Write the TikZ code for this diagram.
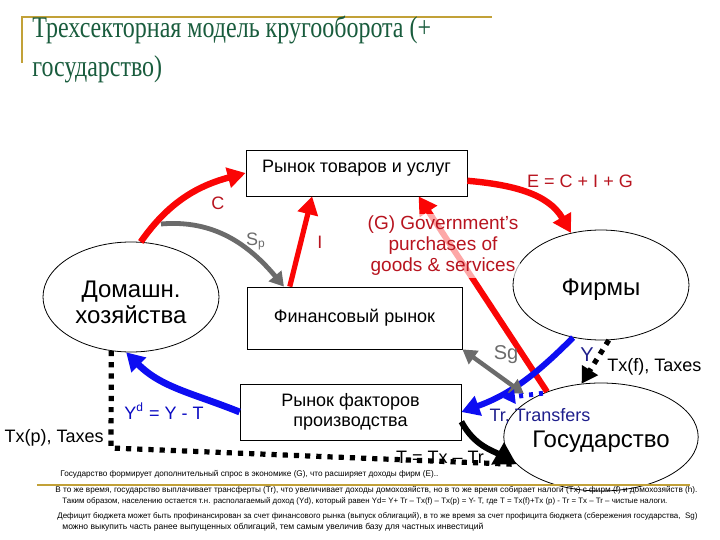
\documentclass[tikz,border=0pt]{standalone}
\usepackage{fontspec}
\setmainfont{Liberation Sans}
\newfontfamily\titlefont{Liberation Serif}
\usetikzlibrary{positioning,arrows.meta,calc,shapes.geometric}
\definecolor{figred}{rgb}{0.98,0.02,0.02}
\definecolor{figmaroon}{rgb}{0.72,0.08,0.12}
\definecolor{figblue}{rgb}{0.05,0.05,0.95}
\definecolor{fignavy}{rgb}{0.12,0.12,0.55}
\definecolor{figgrey}{gray}{0.42}
\definecolor{figgold}{rgb}{0.76,0.63,0.22}
\definecolor{figgreen}{rgb}{0.1,0.36,0.24}
\tikzset{
  fig/.style={font=\fontsize{9}{10}\selectfont},
  box/.style={draw,thin,minimum width=110.5pt,align=center,inner sep=2pt},
  oval/.style={draw,ellipse,thin,minimum width=88pt,minimum height=55pt,inner sep=0pt,
               align=center,font=\fontsize{12}{11.5}\selectfont},
  redln/.style={-{Triangle[length=9pt,width=10pt]},figred,line width=3.2pt},
  blueln/.style={-{Triangle[length=9pt,width=10pt]},figblue,line width=3pt},
  greyln/.style={-{Triangle[length=7pt,width=8pt]},figgrey,line width=2.4pt},
  dotln/.style={black,line width=2.6pt,dash pattern=on 2.6pt off 3pt},
  lbl/.style={inner sep=1pt},
  note/.style={anchor=base west,inner sep=0pt,font=\fontsize{4.1}{5}\selectfont},
}
\newcommand{\nline}[2]{\resizebox{#1}{!}{#2}}

\begin{document}
\begin{tikzpicture}[fig,x=0.5pt,y=-0.5pt,
  ttl/.style={anchor=base west,inner sep=0pt,text=figgreen,
              font=\titlefont\fontsize{15}{16}\selectfont}]

\useasboundingbox (0,0) rectangle (720,540);

% ------------------------------------------------ title
\draw[figgold,line width=1pt] (22,63) -- (22,17) -- (492,17);
\node[ttl] (t1) at (32,38) {\scalebox{0.8}[1]{Трехсекторная модель кругооборота (+}};
\node[ttl] (t2) at (32,77) {\scalebox{0.8}[1]{государство)}};

% ------------------------------------------------ markets and sectors
\node[box,minimum height=23pt,text depth=7pt] (goods) at (356.5,173) {Рынок товаров и услуг};
\node[box,minimum width=107.5pt,minimum height=31pt] (fin) at (354.5,318) {Финансовый рынок};
\node[box,minimum height=28pt] (factor) at (350.5,412) {Рынок факторов\\производства};
\node[oval] (hh) at (131,297) {};
\node[align=center,font=\fontsize{12}{11.5}\selectfont] (hhtxt) at (131,302) {Домашн.\\[1.5pt]хозяйства};
\node[oval,text height=12.5pt] (firms) at (601,285) {Фирмы};
\node[oval,minimum height=54pt,text height=12.5pt,font=\fontsize{12}{13}\selectfont] (gov) at (601,437) {Государство};

\coordinate (sp0) at (161,224);
\coordinate (sg1) at (524,394);
\coordinate (tr1) at (503,398);
\coordinate (txp) at (111,448);

% ------------------------------------------------ spending flows
\draw[redln] (hh.80) to[out=55,in=195] (goods.west);
\draw[greyln] (sp0) to[out=5,in=130] (fin.156);
\draw[redln,line width=2.6pt] ($(fin.north west)!0.2!(fin.north east)$)
  -- ($(goods.south west)!0.3!(goods.south east)$);
\draw[redln] (goods.-4) to[out=-5,in=120] (firms.120);
\draw[redln,line width=3pt] (gov.140) -- ($(goods.south west)!0.78!(goods.south east)$);

\node[lbl,text=figmaroon] (lc) at (218,203) {C};
\node[lbl,text=figgrey] (lsp) at (256,241) {S\textsubscript{p}};
\node[lbl,text=figmaroon] (li) at (320,242) {I};
\node[lbl,text=figmaroon] (le) at (580,181) {E = C + I + G};
\node[lbl,text=figmaroon,align=center,fill=white,fill opacity=0.65,text opacity=1,
      font=\fontsize{9.5}{10.5}\selectfont] (lg) at (443,246)
  {(G) Government's\\purchases of\\goods \& services};

% ------------------------------------------------ income, taxes, transfers
\draw[blueln] (firms.242) to[out=225,in=20] (factor.east);
\draw[figgrey,line width=2.2pt,{Triangle[length=7pt,width=8pt]}-{Triangle[length=7pt,width=8pt]}]
  (fin.south east) -- (sg1);
\draw[figblue,line width=2.4pt,dash pattern=on 2pt off 3pt,-{Triangle[length=6pt,width=7pt]}]
  (gov.143) -- (tr1);
\draw[blueln,line width=3.4pt] (factor.west) to[out=158,in=-45] (hh.265);
\draw[dotln,-{Triangle[length=8pt,width=9pt]}] (firms.-82) -- (gov.110);
\draw[dotln] (hh.250) -- (txp) -- (gov.198);
\draw[black,line width=3pt,-{Triangle[length=11pt,width=12pt]}]
  (factor.-5) to[out=-62,in=150] (gov.198);

\node[lbl,text=figgrey,font=\fontsize{10}{11}\selectfont] (lsg) at (506,355) {Sg};
\node[lbl,text=fignavy,font=\fontsize{10}{11}\selectfont] (ly) at (587,355) {Y};
\node[lbl,anchor=west] (ltxf) at (605,367) {Tx(f), Taxes};
\node[lbl,text=fignavy] (ltr) at (540,416) {Tr, Transfers};
\node[lbl,text=figblue!80!black] (lyd) at (164,411) {Y\textsuperscript{d} = Y - T};
\node[lbl,anchor=east] (ltxp) at (106,438) {Tx(p), Taxes};
\node[lbl] (lt) at (440,457) {T = Tx – Tr};

% ------------------------------------------------ notes
\draw[figgold,line width=1.2pt] (37,485) -- (690,485);
\node[note] (n1) at (60,477) {\nline{189pt}{Государство формирует дополнительный спрос в экономике (G), что расширяет доходы фирм (E)..}};
\node[note] (n2) at (55,493) {\nline{321pt}{В то же время, государство выплачивает трансферты (Tr), что увеличивает доходы домохозяйств, но в то же время собирает налоги (Tx) с фирм (f) и домохозяйств (h).}};
\node[note] (n3) at (62,504) {\nline{302.5pt}{Таким образом, населению остается т.н. располагаемый доход (Yd), который равен Yd= Y+ Tr – Tx(f) – Tx(p) = Y- T, где T = Tx(f)+Tx (p) - Tr = Tx – Tr – чистые налоги.}};
\node[note] (n4) at (57,519) {\nline{320pt}{Дефицит бюджета может быть профинансирован за счет финансового рынка (выпуск облигаций), в то же время за счет профицита бюджета (сбережения государства,~ Sg)}};
\node[note] (n5) at (62,530) {\nline{210.5pt}{можно выкупить часть ранее выпущенных облигаций, тем самым увеличив базу для частных инвестиций}};

\end{tikzpicture}
\end{document}
